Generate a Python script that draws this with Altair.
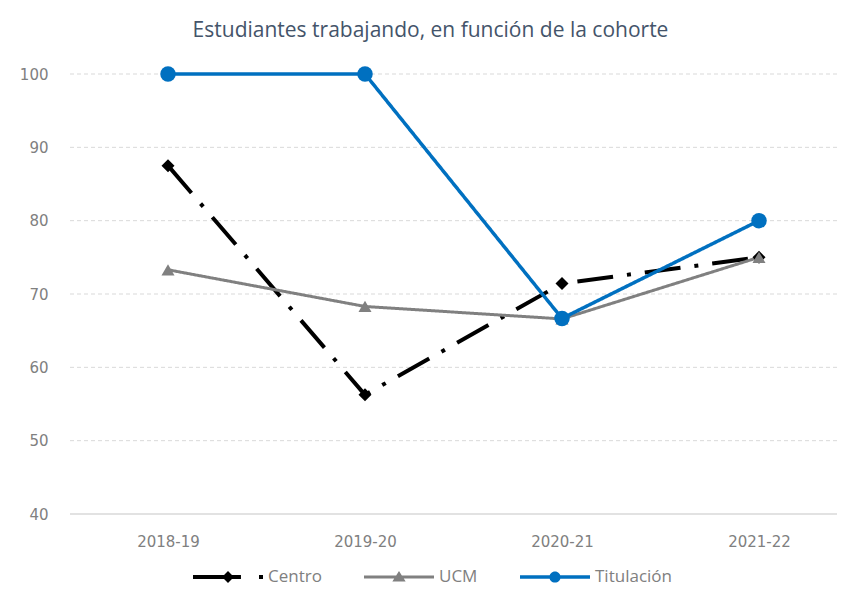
import altair as alt
import pandas as pd

cohortes = ["2018-19", "2019-20", "2020-21", "2021-22"]
series = ["Centro", "UCM", "Titulación"]
centro = [87.5, 56.25, 71.43, 75.0]
ucm = [73.3, 68.3, 66.6, 75.0]
titulacion = [100.0, 100.0, 66.67, 80.0]
y_ticks = [40, 50, 60, 70, 80, 90, 100]

colores = ["#000000", "#808080", "#0070C0"]
formas = ["diamond", "triangle-up", "circle"]
tamanos = [170, 170, 240]
grosores = [4, 3, 3.5]
trazos = [[36, 14, 4, 14], [1, 0], [1, 0]]
# legend glyphs: line + marker, in the [-1, 1] symbol box
leyenda_formas = [
    "M-1,-0.057H0.37V0.057H-1Z M0.886,-0.057H1V0.057H0.886Z M0,-0.17L0.17,0L0,0.17L-0.17,0Z",
    "M-1,-0.043H1V0.043H-1Z M0,-0.17L0.19,0.13H-0.19Z",
    "M-1,-0.05H1V0.05H-1Z M-0.16,0A0.16,0.16,0,1,1,0.16,0A0.16,0.16,0,1,1,-0.16,0Z",
]

W, H = 767, 440

rows = []
for s, vals in zip(series, [centro, ucm, titulacion]):
    for c, v in zip(cohortes, vals):
        rows.append({"cohorte": c, "serie": s, "valor": v})
df = pd.DataFrame(rows)
grid_df = pd.DataFrame({"valor": y_ticks})

x_enc = alt.X("cohorte:N", sort=cohortes,
              scale=alt.Scale(type="point", padding=0, range=[98, 689]),
              axis=alt.Axis(title=None, labelAngle=0, ticks=False, domain=False,
                            grid=False,
                            labelFont="DejaVu Sans", labelFontSize=15,
                            labelColor="#808080", labelPadding=20))
y_scale = alt.Scale(domain=[40, 100], nice=False, zero=False)
y_enc = alt.Y("valor:Q", scale=y_scale,
              axis=alt.Axis(title=None, values=y_ticks,
                            ticks=False, domain=False, grid=False,
                            labelFont="DejaVu Sans", labelFontSize=15,
                            labelColor="#808080", labelPadding=22))

grid = (
    alt.Chart(grid_df).transform_filter(alt.datum.valor > 40)
    .mark_rule(color="#d9d9d9", strokeWidth=1, strokeDash=[4, 3])
    .encode(y=alt.Y("valor:Q", scale=y_scale), x=alt.value(0), x2=alt.value(W))
)
baseline = (
    alt.Chart(grid_df).transform_filter(alt.datum.valor == 40)
    .mark_rule(color="#d9d9d9", strokeWidth=1.5)
    .encode(y=alt.Y("valor:Q", scale=y_scale), x=alt.value(0), x2=alt.value(W))
)

base = alt.Chart(df)
layers = [grid, baseline]
for s, col, dash, w in zip(series, colores, trazos, grosores):
    layers.append(
        base.transform_filter(alt.datum.serie == s)
        .mark_line(color=col, strokeWidth=w, strokeDash=dash, strokeCap="butt")
        .encode(x=x_enc, y=y_enc)
    )
for s, col, shp, sz in zip(series, colores, formas, tamanos):
    layers.append(
        base.transform_filter(alt.datum.serie == s)
        .mark_point(shape=shp, size=sz, filled=True, color=col, opacity=1, strokeWidth=0)
        .encode(x=x_enc, y=y_enc)
    )

leg = dict(title=None, orient="none", direction="horizontal",
           legendX=123, legendY=468,
           labelFont="Open Sans", labelFontSize=17,
           labelColor="#808080", labelOffset=5,
           columnPadding=42, symbolSize=4900,
           symbolStrokeWidth=0, symbolOpacity=1)

legend_layer = (
    base.transform_filter("false")
    .mark_point(filled=True, opacity=1, strokeWidth=0)
    .encode(
        x=x_enc, y=y_enc,
        color=alt.Color("serie:N", scale=alt.Scale(domain=series, range=colores),
                        legend=alt.Legend(**leg)),
        shape=alt.Shape("serie:N", scale=alt.Scale(domain=series, range=leyenda_formas),
                        legend=alt.Legend(**leg)),
    )
)
layers.append(legend_layer)

chart = alt.layer(*layers).properties(
    width=W, height=H,
    background="white",
    title=alt.TitleParams(
        "Estudiantes trabajando, en función de la cohorte",
        font="Open Sans", fontSize=21, fontWeight="normal", color="#44546A",
        anchor="middle", frame="group", baseline="alphabetic", offset=8, dx=-23,
    ),
    autosize=alt.AutoSizeParams(type="none"),
    padding={"left": 62, "top": 66, "right": 0, "bottom": 72},
).configure_view(stroke="transparent", strokeWidth=0)

chart.save("out.html", embed_options={"renderer": "svg", "actions": False})
